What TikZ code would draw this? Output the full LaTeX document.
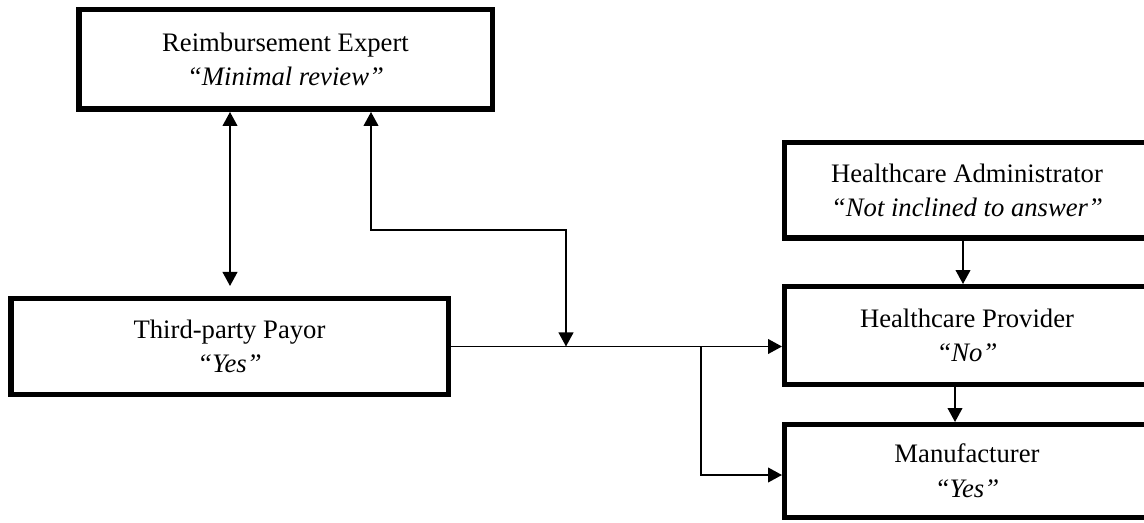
\documentclass[tikz,border=0pt]{standalone}
\usepackage{fontspec}
\setmainfont{Liberation Serif}
\usetikzlibrary{arrows.meta}
\begin{document}
\begin{tikzpicture}[x=0.75pt,y=-0.75pt,
  box/.style={draw=black,line width=4.1pt,fill=white,inner sep=0pt,align=center,
    font=\fontsize{20}{26}\selectfont},
  conn/.style={line width=1.4pt,-{Triangle[length=10.5pt,width=11pt]}},
  dconn/.style={line width=1.4pt,{Triangle[length=10.5pt,width=11pt]}-{Triangle[length=10.5pt,width=11pt]}}]
\fill[white] (0,0) rectangle (1144,523);
\useasboundingbox (0,0) rectangle (1144,523);

\node[box,minimum width=310.1pt,minimum height=74.6pt] (re) at (285.5,59.5)
  {Reimbursement Expert\\ \textit{“Minimal review”}};
\node[box,minimum width=328.1pt,minimum height=71.6pt] (tp) at (229.5,346.5)
  {Third-party Payor\\ \textit{“Yes”}};
\node[box,minimum width=273.4pt,minimum height=71.6pt] (ha) at (967,190.5)
  {Healthcare Administrator\\ \textit{“Not inclined to answer”}};
\node[box,minimum width=273.4pt,minimum height=73.1pt] (hp) at (967,335.5)
  {Healthcare Provider\\ \textit{“No”}};
\node[box,minimum width=273.4pt,minimum height=69.4pt] (mf) at (967,471)
  {Manufacturer\\ \textit{“Yes”}};

\coordinate (a1) at (230,286);
\coordinate (b1) at (371,230);
\coordinate (b2) at (566,230);
\coordinate (j1) at (566,346.5);
\coordinate (j2) at (701,346.5);
\coordinate (m1) at (701,475);
\coordinate (h1) at (963,0);
\coordinate (h2) at (955,0);

\draw[dconn] (re.south -| a1) -- (a1);
\draw[dconn] (re.south -| b1) -- (b1) -- (b2) -- (j1);
\draw[conn] (tp.east) -- (tp.east -| hp.west);
\draw[conn] (j2) -- (m1) -- (m1 -| mf.west);
\draw[conn] (ha.south -| h1) -- (hp.north -| h1);
\draw[conn] (hp.south -| h2) -- (mf.north -| h2);
\end{tikzpicture}
\end{document}
